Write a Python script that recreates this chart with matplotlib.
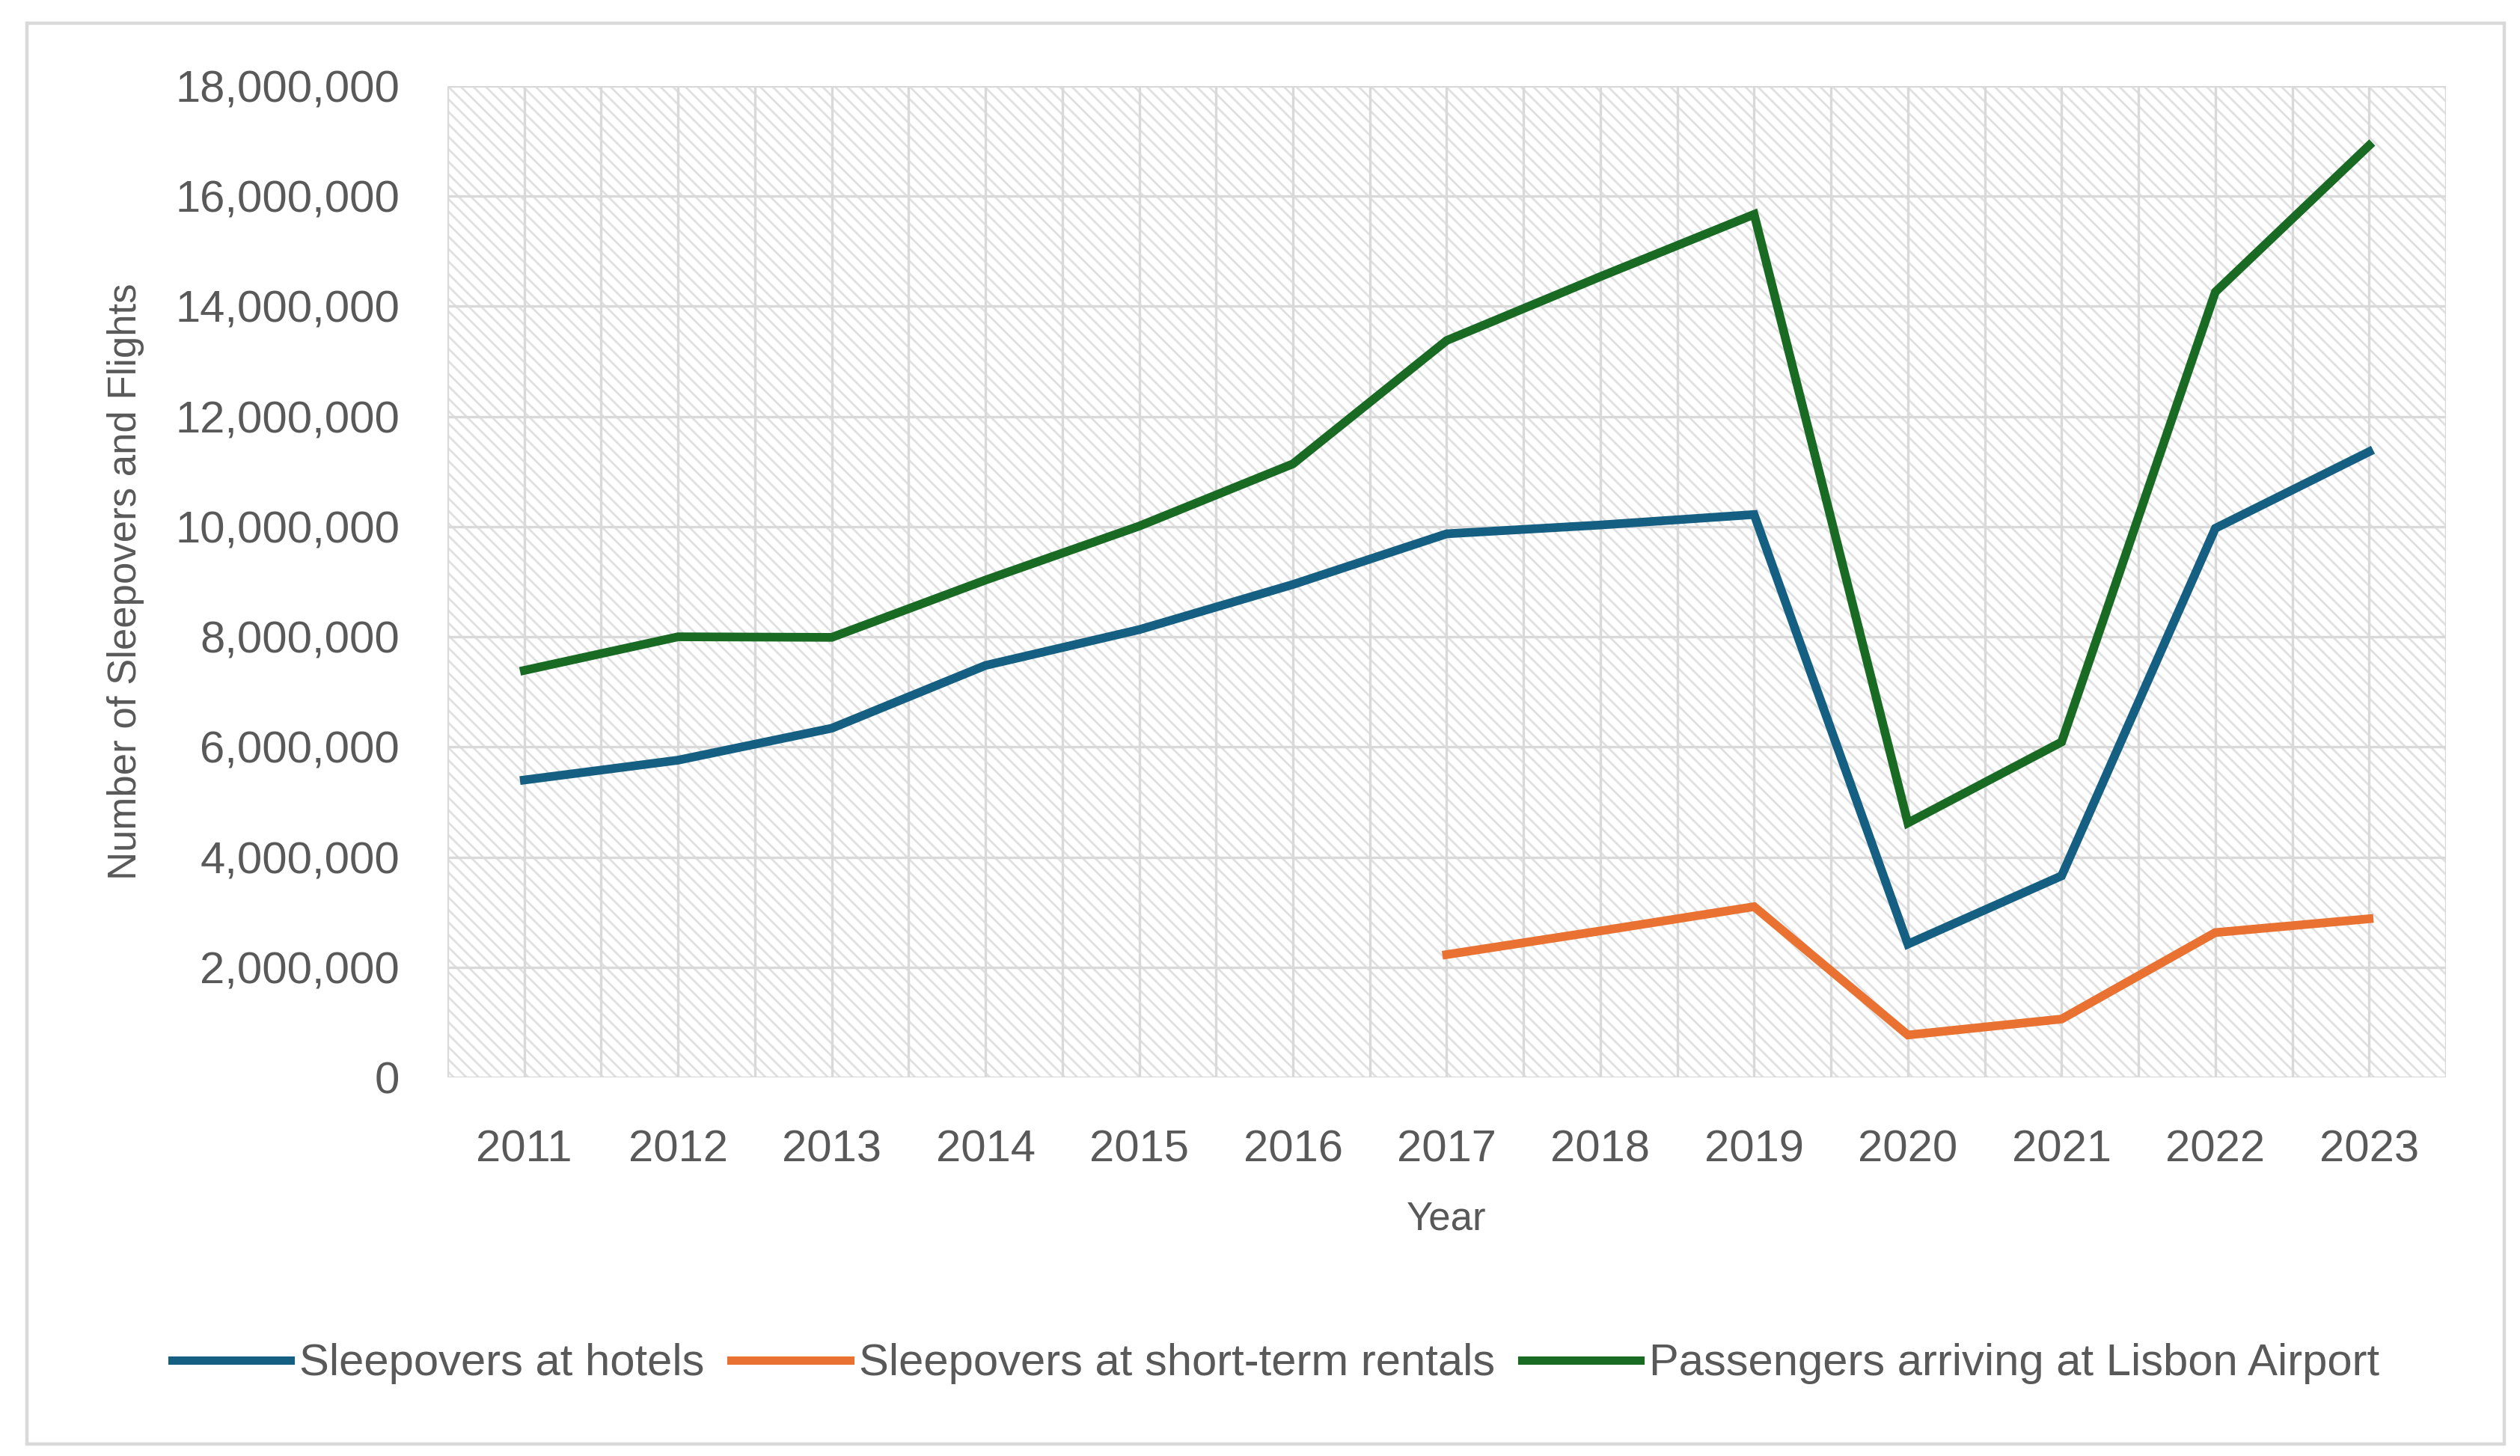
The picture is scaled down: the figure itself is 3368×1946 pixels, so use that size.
import matplotlib
matplotlib.use("Agg")
import matplotlib.pyplot as plt
from matplotlib.patches import Rectangle
from matplotlib.ticker import FuncFormatter, MultipleLocator
import numpy as np

years = ["2011", "2012", "2013", "2014", "2015", "2016", "2017",
         "2018", "2019", "2020", "2021", "2022", "2023"]
hotels = [5.40e6, 5.76e6, 6.34e6, 7.48e6, 8.13e6, 8.95e6, 9.87e6,
          10.03e6, 10.22e6, 2.42e6, 3.66e6, 9.97e6, 11.36e6]
rentals_years = ["2017", "2018", "2019", "2020", "2021", "2022", "2023"]
rentals = [2.23e6, 2.66e6, 3.10e6, 0.77e6, 1.06e6, 2.63e6, 2.88e6]
passengers = [7.39e6, 8.00e6, 7.99e6, 9.03e6, 10.01e6, 11.14e6, 13.38e6,
              14.54e6, 15.67e6, 4.62e6, 6.09e6, 14.26e6, 16.92e6]

labels = ["Sleepovers at hotels", "Sleepovers at short-term rentals",
          "Passengers arriving at Lisbon Airport"]
colors = ["#156082", "#E97132", "#196B24"]

TXT = "#595959"
GRID = "#D9D9D9"

plt.rcParams['font.family'] = ['Liberation Sans', 'DejaVu Sans']
plt.rcParams['hatch.linewidth'] = 1.0
plt.rcParams['hatch.color'] = "#E0E0E0"

W, H = 3368, 1946
fig = plt.figure(figsize=(W / 200, H / 200), dpi=200)
fig.patch.set_facecolor("white")

# outer chart border
fig.patches.append(Rectangle((36 / W, 1 - 1930 / H), (3347 - 36) / W, (1930 - 31) / H,
                             transform=fig.transFigure, facecolor="none",
                             edgecolor="#D9D9D9", linewidth=1.6, zorder=-1))

L, R, T, B = 598, 3269, 115, 1440
ax = fig.add_axes([L / W, 1 - B / H, (R - L) / W, (B - T) / H])
ax.set_facecolor("none")

# hatched plot area
ax.add_patch(Rectangle((0, 0), 1, 1, transform=ax.transAxes, facecolor="white",
                       edgecolor="#E0E0E0", hatch="\\\\\\\\", linewidth=0, zorder=0.1))

x = np.arange(len(years))
xr = np.array([years.index(y) for y in rentals_years])

ax.plot(x, hotels, color=colors[0], lw=4.2, label=labels[0], zorder=3,
        solid_joinstyle="miter")
ax.plot(xr, rentals, color=colors[1], lw=4.2, label=labels[1], zorder=3,
        solid_joinstyle="miter")
ax.plot(x, passengers, color=colors[2], lw=4.2, label=labels[2], zorder=3,
        solid_joinstyle="miter")

ax.set_xlim(-0.5, len(years) - 0.5)
ax.set_ylim(0, 18e6)
ax.set_xticks(x)
ax.set_xticklabels(years)
ax.set_xticks(np.arange(-0.5, len(years), 1.0), minor=True)
ax.yaxis.set_major_locator(MultipleLocator(2e6))
ax.yaxis.set_major_formatter(FuncFormatter(lambda v, p: f"{int(round(v)):,}"))

ax.set_axisbelow(True)
ax.grid(True, which="both", axis="x", color=GRID, lw=1.2, zorder=0.5)
ax.grid(True, which="major", axis="y", color=GRID, lw=1.2, zorder=0.5)

for s in ax.spines.values():
    s.set_visible(False)

ax.tick_params(axis="both", which="both", length=0, colors=TXT, labelsize=21.5)
ax.tick_params(axis="x", pad=25)
ax.tick_params(axis="y", pad=23)

ax.set_xlabel("Year", fontsize=19, color=TXT)
ax.xaxis.set_label_coords(0.5, -(1630 - B) / (B - T))
ax.xaxis.label.set_va("center")
ax.set_ylabel("Number of Sleepovers and Flights", fontsize=19, color=TXT)
ax.yaxis.set_label_coords(-(L - 168) / (R - L), 0.5)
ax.yaxis.label.set_va("center")

leg = fig.legend(loc="center", bbox_to_anchor=(1705 / W, 1 - 1823 / H), ncol=3,
                 frameon=False, fontsize=21.5, handlelength=2.65, handletextpad=0.2,
                 columnspacing=0.6, labelcolor=TXT)
for line in leg.get_lines():
    line.set_linewidth(4.0)

fig.savefig("out.png", dpi=200, facecolor="white")
